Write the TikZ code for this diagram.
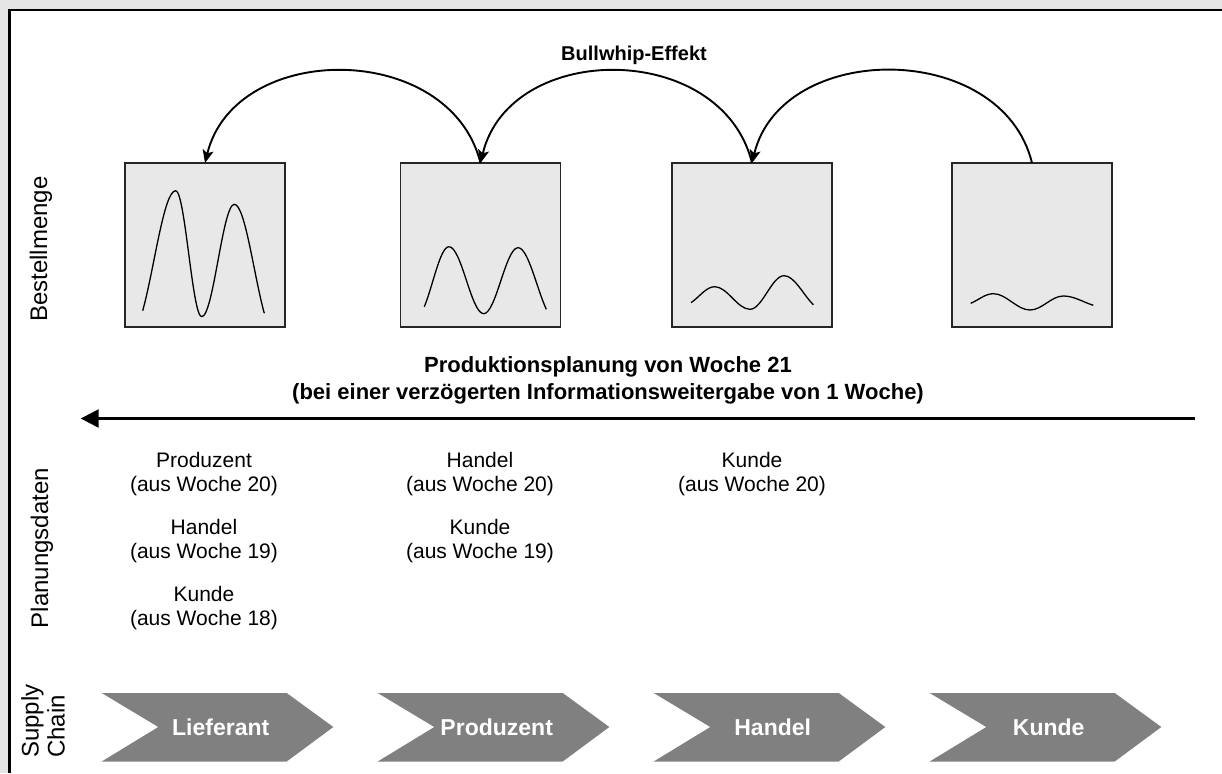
\documentclass[tikz,border=0pt]{standalone}
\usepackage{fontspec}
\setmainfont{Liberation Sans}
\usetikzlibrary{arrows.meta}
\definecolor{bggray}{HTML}{E5E5E5}
\definecolor{boxfill}{HTML}{E8E8E8}
\definecolor{chev}{HTML}{808080}
\tikzset{
  chartbox/.style={draw=black!85,fill=boxfill,line width=1.2pt,minimum width=160pt,minimum height=164pt,inner sep=0pt,outer sep=0pt},
  wave/.style={line width=1.3pt,line join=round},
  whip/.style={line width=1.9pt,-{Stealth[length=13pt,width=11pt,inset=3pt]}},
  bigarrow/.style={line width=2.4pt,-{Triangle[length=18pt,width=18pt]}},
  boldlbl/.style={font={\bfseries\fontsize{22}{27}\selectfont},align=center,inner sep=0pt},
  whiplbl/.style={font={\bfseries\fontsize{20}{24}\selectfont},inner sep=0pt},
  plan/.style={font={\fontsize{21}{24}\selectfont},align=center,inner sep=0pt},
  sidelbl/.style={rotate=90,font={\fontsize{24}{26}\selectfont},inner sep=0pt},
  chevron/.style={fill=chev,draw=none},
  chevtxt/.style={font={\bfseries\fontsize{23}{28}\selectfont},text=white,inner sep=0pt}
}
\begin{document}
\begin{tikzpicture}[x=1pt,y=1pt]
\useasboundingbox (0,0) rectangle (1222,-773);
\fill[bggray] (0,0) rectangle (1222,-773);
\fill[white] (9.5,-10) rectangle (1222,-773);
\draw[line width=2.5pt] (9.5,-773) -- (9.5,-10) -- (1222,-10);

% chart boxes
\node[chartbox] (b1) at (205,-245) {};
\node[chartbox] (b2) at (480.5,-245) {};
\node[chartbox] (b3) at (752,-245) {};
\node[chartbox] (b4) at (1032,-245) {};

% waves
\draw[wave] (142.7,-310.7) .. controls (154.3,-268.7) and (163.8,-190.7) .. (175.7,-190.7)
  .. controls (185.1,-190.7) and (192.3,-316.7) .. (201.7,-316.7)
  .. controls (213.4,-316.7) and (222.6,-204.3) .. (234.3,-204.3)
  .. controls (245.1,-204.3) and (253.8,-275.2) .. (264.3,-313.3);
\draw[wave] (424.3,-306.7) .. controls (433.0,-285.7) and (440.1,-246.7) .. (449,-246.7)
  .. controls (461.5,-246.7) and (471.2,-313.7) .. (483.7,-313.7)
  .. controls (496,-313.7) and (505.7,-247.7) .. (518,-247.7)
  .. controls (528.2,-247.7) and (536.4,-287.7) .. (546.3,-309.3);
\draw[wave] (691,-302.7) .. controls (699.3,-297.1) and (706.2,-286.7) .. (714.7,-286.7)
  .. controls (727.4,-286.7) and (737.3,-309.3) .. (750,-309.3)
  .. controls (762.2,-309.3) and (771.8,-275.7) .. (784,-275.7)
  .. controls (794.5,-275.7) and (803.0,-294.5) .. (813.3,-304.7);
\draw[wave] (970.7,-303.3) .. controls (978.6,-300.0) and (985.2,-293.7) .. (993.3,-293.7)
  .. controls (1006.5,-293.7) and (1016.8,-310) .. (1030,-310)
  .. controls (1042,-310) and (1051.3,-296) .. (1063.3,-296)
  .. controls (1074.1,-296) and (1082.8,-302.0) .. (1093.3,-305.3);

% bullwhip arcs
\draw[whip] (b4.north) .. controls (1002,-40) and (782,-40) .. (b3.north);
\draw[whip] (b3.north) .. controls (722,-40.3) and (510,-40.3) .. (b2.north);
\draw[whip] (b2.north) .. controls (450,-40.3) and (235,-40.3) .. (b1.north);
\node[whiplbl] (bw) at (634,-55) {Bullwhip-Effekt};

% production arrow
\node[boldlbl] (prod) at (608,-380) {Produktionsplanung von Woche 21\\(bei einer verzögerten Informationsweitergabe von 1 Woche)};
\coordinate (hs) at (1195,-418.5);
\coordinate (he) at (80.7,-418.5);
\draw[bigarrow] (hs) -- (he);

% planning data
\node[plan] (p11) at (204,-474) {Produzent\\(aus Woche 20)};
\node[plan] (p12) at (204,-541) {Handel\\(aus Woche 19)};
\node[plan] (p13) at (204,-608) {Kunde\\(aus Woche 18)};
\node[plan] (p21) at (480,-474) {Handel\\(aus Woche 20)};
\node[plan] (p22) at (480,-541) {Kunde\\(aus Woche 19)};
\node[plan] (p31) at (752,-474) {Kunde\\(aus Woche 20)};

% side labels
\node[sidelbl] (lb1) at (41,-249) {Bestellmenge};
\node[sidelbl] (lb2) at (42,-548) {Planungsdaten};
\node[sidelbl] (lb3) at (46.5,-721) {\begin{tabular}{@{}l@{}}Supply\\Chain\end{tabular}};

% supply chain chevrons
\foreach \i/\name/\lbl in {0/c1/Lieferant,1/c2/Produzent,2/c3/Handel,3/c4/Kunde}{
  \pgfmathsetmacro{\L}{101.7+276*\i}
  \fill[chevron] (\L,-693) -- ({\L+185},-693) -- ({\L+231.6},-727) -- ({\L+185},-761.5) -- (\L,-761.5) -- ({\L+56.6},-727) -- cycle;
  \node[chevtxt] (\name) at ({\L+119},-727) {\lbl};
}
\end{tikzpicture}
\end{document}
